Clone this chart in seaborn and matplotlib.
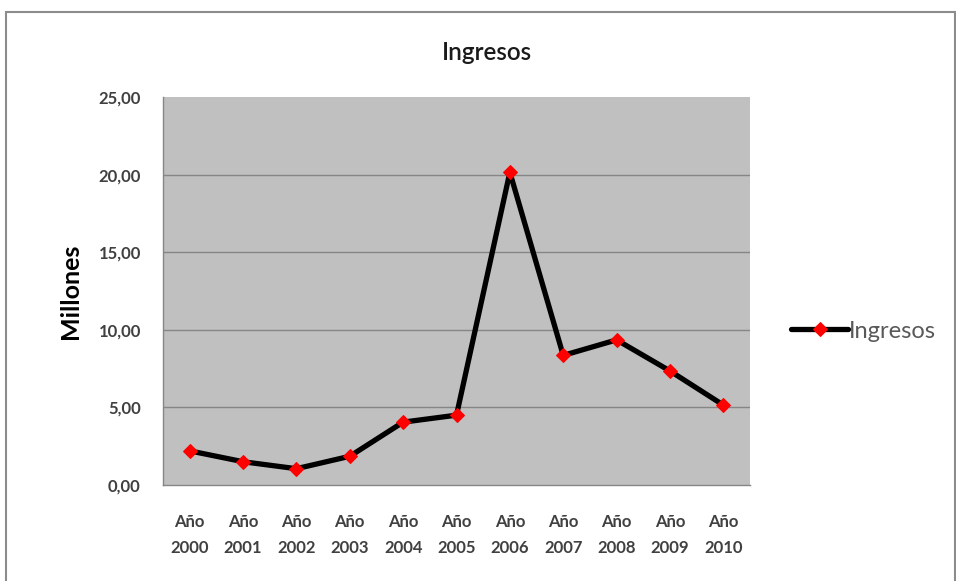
import matplotlib
matplotlib.use("Agg")
import matplotlib.pyplot as plt
import matplotlib.ticker as mticker
from matplotlib.patches import Rectangle
import seaborn as sns
import pandas as pd

years = ["2000", "2001", "2002", "2003", "2004", "2005",
         "2006", "2007", "2008", "2009", "2010"]
ingresos = [2.20, 1.50, 1.05, 1.85, 4.05, 4.50, 20.15, 8.35, 9.35, 7.35, 5.15]
tick_labels = ["Año\n" + y for y in years]
y_ticks = [0, 5, 10, 15, 20, 25]

sns.set_theme(style="white")
plt.rcParams["font.family"] = ["Lato", "DejaVu Sans"]

df = pd.DataFrame({"pos": range(len(years)), "valor": ingresos})

fig = plt.figure(figsize=(9.56, 5.81), dpi=100)
fig.patch.set_facecolor("white")
ax = fig.add_axes([163 / 956, 1 - 485 / 581, (750 - 163) / 956, (485 - 97) / 581])
ax.set_facecolor("#C0C0C0")

# outer chart frame
fig.patches.append(Rectangle((6 / 956, -0.01), 949 / 956, 1 - 12 / 581 + 0.01,
                             transform=fig.transFigure, fill=False,
                             edgecolor="#8C8C8C", linewidth=1.5))

# horizontal gridlines (none on the top edge)
for v in y_ticks[1:-1]:
    ax.axhline(v, color="#868686", linewidth=1.0, zorder=0.5)

sns.lineplot(data=df, x="pos", y="valor", ax=ax, color="black", linewidth=3.8,
             marker="D", markersize=7.5, markerfacecolor="#FF0000",
             markeredgecolor="#FF0000", label="Ingresos", legend=False, zorder=3)

ax.set_xlim(-0.5, len(years) - 0.5)
ax.set_ylim(0, 25)
ax.set_yticks(y_ticks)
ax.yaxis.set_major_formatter(mticker.FuncFormatter(lambda v, p: f"{v:.2f}".replace(".", ",")))
ax.grid(False)

ax.set_xticks(range(len(years)))
ax.set_xticklabels(tick_labels, fontsize=12, fontweight="bold", color="#404040",
                   linespacing=1.75)
ax.set_xticks([i - 0.5 for i in range(len(years) + 1)], minor=True)
ax.tick_params(axis="x", which="major", length=0, pad=21)
ax.tick_params(axis="x", which="minor", length=6, width=1, color="#868686", direction="out")
ax.tick_params(axis="y", length=6, width=1, color="#868686", direction="out",
               labelsize=12, labelcolor="#404040", pad=10)
for lbl in ax.get_yticklabels():
    lbl.set_fontweight("bold")

for side in ["top", "right"]:
    ax.spines[side].set_visible(False)
for side in ["left", "bottom"]:
    ax.spines[side].set_color("#868686")
    ax.spines[side].set_linewidth(1.0)

ax.set_xlabel("")
ax.set_ylabel("Millones", fontsize=18, fontweight="bold", color="black", labelpad=12)
fig.text(487 / 956, 1 - 52 / 581, "Ingresos", ha="center", va="center",
         fontsize=17.5, fontweight="semibold", color="#1A1A1A")

leg = ax.legend(loc="center left", bbox_to_anchor=(770 / 956, 1 - 331 / 581),
                bbox_transform=fig.transFigure, frameon=False, fontsize=17,
                handlelength=2.4, handletextpad=0.05)
for t in leg.get_texts():
    t.set_color("#595959")

fig.savefig("out.png", dpi=100)
